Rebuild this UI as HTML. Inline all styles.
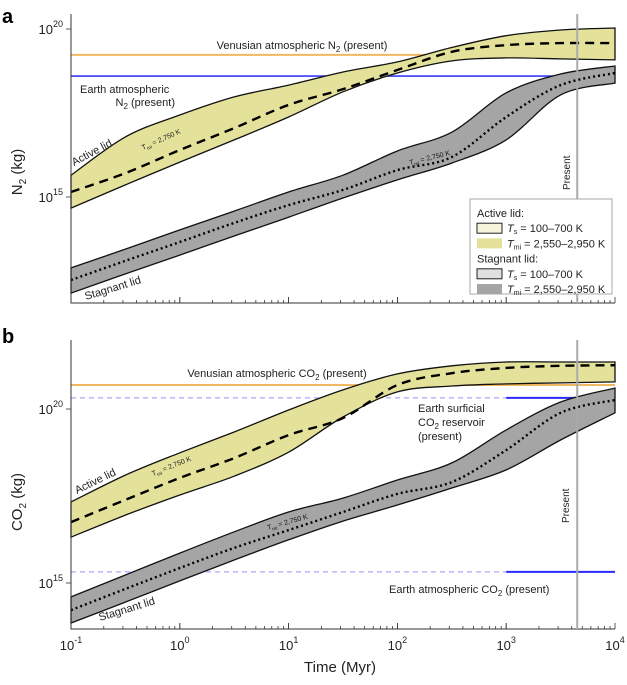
<!DOCTYPE html>
<html><head><meta charset="utf-8"><style>
html,body{margin:0;padding:0;background:#fff;}
svg{display:block;font-family:"Liberation Sans",sans-serif;}
</style></head><body>
<svg id="chart" width="627" height="685" viewBox="0 0 627 685" xmlns="http://www.w3.org/2000/svg">
<g id="layer"></g>
</svg>
<script>
// Shared time grid (log10 Myr)
const logTime = [-1, -0.5, 0, 0.5, 1, 1.5, 2, 2.5, 3, 3.5, 4];
// Panel a: N2 (log10 kg)
const aActiveUpper = [15.65, 16.79, 17.44, 17.98, 18.33, 18.72, 19.02, 19.45, 19.80, 19.97, 20.03];
const aActiveLower = [14.67, 15.36, 16.04, 16.70, 17.38, 18.13, 18.69, 19.05, 19.14, 19.11, 19.08];
const aActiveMean  = [15.15, 15.71, 16.40, 17.05, 17.74, 18.21, 18.78, 19.32, 19.52, 19.58, 19.58];
const aStagUpper = [12.89, 13.45, 14.02, 14.58, 15.15, 15.65, 16.37, 16.93, 18.10, 18.66, 18.90];
const aStagLower = [12.14, 12.71, 13.27, 13.84, 14.40, 14.97, 15.51, 16.01, 16.70, 18.04, 18.39];
const aStagMean  = [12.53, 13.10, 13.66, 14.23, 14.76, 15.21, 15.80, 16.19, 17.38, 18.33, 18.69];
const aVenusN2 = 19.23, aEarthN2 = 18.60;
// Panel b: CO2 (log10 kg)
const bActiveUpper = [17.33, 18.10, 18.74, 19.34, 19.97, 20.55, 21.01, 21.24, 21.35, 21.35, 21.35];
const bActiveLower = [16.32, 16.95, 17.53, 18.07, 18.76, 19.77, 20.49, 20.66, 20.72, 20.75, 20.78];
const bActiveMean  = [16.75, 17.39, 18.02, 18.59, 19.25, 19.74, 20.69, 21.03, 21.18, 21.24, 21.26];
const bStagUpper = [14.60, 15.23, 15.86, 16.47, 17.04, 17.44, 17.96, 18.45, 19.40, 20.20, 20.60];
const bStagLower = [13.85, 14.45, 15.06, 15.66, 16.24, 16.78, 17.24, 17.73, 18.25, 19.11, 19.89];
const bStagMean  = [14.22, 14.83, 15.43, 16.01, 16.52, 17.04, 17.56, 17.90, 18.82, 19.89, 20.26];
const bVenusCO2 = 20.69, bEarthSurf = 20.32, bEarthAtm = 15.32;
const presentLogT = 3.653;
const xTickLabels = ["-1","0","1","2","3","4"];

const NS = "http://www.w3.org/2000/svg";
const layer = document.getElementById("layer");
const X0 = 71, XD = 108.8;
function xs(lt){ return X0 + (lt + 1) * XD; }
function yA(v){ return 29 + (20 - v) * 33.6; }
function yB(v){ return 409 + (20 - v) * 34.8; }
function el(tag, attrs, parent){ const e=document.createElementNS(NS,tag); for(const k in attrs) e.setAttribute(k,attrs[k]); (parent||layer).appendChild(e); return e; }
function pts(arr, yf){ return arr.map((v,i)=>[xs(logTime[i]), yf(v)]); }
function cr(p){
  let d="";
  for(let i=0;i<p.length-1;i++){
    const p0=p[Math.max(0,i-1)],p1=p[i],p2=p[i+1],p3=p[Math.min(p.length-1,i+2)];
    const c1=[p1[0]+(p2[0]-p0[0])/6,p1[1]+(p2[1]-p0[1])/6];
    const c2=[p2[0]-(p3[0]-p1[0])/6,p2[1]-(p3[1]-p1[1])/6];
    d+=` C${c1[0].toFixed(1)},${c1[1].toFixed(1)} ${c2[0].toFixed(1)},${c2[1].toFixed(1)} ${p2[0].toFixed(1)},${p2[1].toFixed(1)}`;
  }
  return d;
}
function line(p){ return `M${p[0][0]},${p[0][1].toFixed(1)}`+cr(p); }
function band(up, lo, yf, fill, name){
  const pu=pts(up,yf), pl=pts(lo,yf).reverse();
  const d=line(pu)+` L${pl[0][0]},${pl[0][1].toFixed(1)}`+cr(pl)+" Z";
  const b=el("path",{d:d,fill:fill,stroke:"#111","stroke-width":1.3});
  
  
}
function meanLine(arr, yf, dash, w, name){
  const m=el("path",{d:line(pts(arr,yf)),fill:"none",stroke:"#000","stroke-width":w,"stroke-dasharray":dash});
  
  
}
function hline(v, yf, x1, x2, color, w, dash, name){
  const l=el("line",{x1:x1,x2:x2,y1:yf(v),y2:yf(v),stroke:color,"stroke-width":w});
  if(dash) l.setAttribute("stroke-dasharray",dash);
  
  
}
function text(x,y,str,opts,name){
  const t=el("text",Object.assign({x:x,y:y,"font-size":11,fill:"#222"},opts||{}));
  t.innerHTML=str;
  
  
  return t;
}
function axes(top,bottom,yf,prefix,labels){
  const ax=el("path",{d:`M${X0},${top} L${X0},${bottom} L${xs(4)},${bottom}`,fill:"none",stroke:"#333","stroke-width":1});
  
  
  for(let d=-1; d<4; d++){
    for(let k=1;k<=10;k++){
      const x=xs(d+Math.log10(k));
      const tk=el("line",{x1:x,x2:x,y1:bottom,y2:bottom-(k===1||k===10?6:3),stroke:"#333","stroke-width":0.8});
      
      
    }
  }
  [20,15].forEach(v=>{
    const tk=el("line",{x1:X0-5,x2:X0,y1:yf(v),y2:yf(v),stroke:"#333","stroke-width":0.8});
    
    
    text(X0-8,yf(v)+5,`10<tspan dy="-7" font-size="9">${v}</tspan>`,{"text-anchor":"end","font-size":13,fill:"#222"},prefix+'-y-tick-label');
  });
  if(labels){
    xTickLabels.forEach((s,i)=>{
      text(xs(i-1),bottom+21,`10<tspan dy="-7" font-size="9">${s}</tspan>`,{"text-anchor":"middle","font-size":13,fill:"#222"},'x-tick-label');
    });
  }
  const px=xs(presentLogT);
  const pl=el("line",{x1:px,x2:px,y1:top,y2:bottom,stroke:"#aaa","stroke-width":2});
  
  
}

// ---------- Panel a ----------
hline(aVenusN2,yA,X0,xs(4),"#f0b860",2,null,"venus-n2-line");
hline(aEarthN2,yA,X0,xs(4),"#3a3aff",1.6,null,"earth-n2-line");
band(aActiveUpper,aActiveLower,yA,"#e4e29a","active-lid-band-a");
band(aStagUpper,aStagLower,yA,"#a5a5a5","stagnant-lid-band-a");
meanLine(aActiveMean,yA,"9,6",2.4,"active-mean-a");
meanLine(aStagMean,yA,"2,3",2.4,"stagnant-mean-a");
axes(14,303,yA,"panel-a",false);
text(302,49,'Venusian atmospheric N<tspan dy="3" font-size="8">2</tspan><tspan dy="-3"> (present)</tspan>',{"text-anchor":"middle"},"venus-n2-label");
text(80,93,'Earth atmospheric',{},"earth-n2-label");
text(175,106,'N<tspan dy="3" font-size="8">2</tspan><tspan dy="-3"> (present)</tspan>',{"text-anchor":"end"},"earth-n2-label-2");
text(74,166,'Active lid',{transform:"rotate(-28 74 166)"},"active-lid-label-a");
text(86,300,'Stagnant lid',{transform:"rotate(-17 86 300)"},"stagnant-lid-label-a");
text(143,150,'T<tspan dy="2" font-size="5">mi</tspan><tspan dy="-2"> = 2,750 K</tspan>',{"font-size":7,transform:"rotate(-24 143 150)"},"tmi-label-a1");
text(410,165,'T<tspan dy="2" font-size="5">mi</tspan><tspan dy="-2"> = 2,750 K</tspan>',{"font-size":7,fill:"#111",transform:"rotate(-14 410 165)"},"tmi-label-a2");
text(570,190,'Present',{transform:"rotate(-90 570 190)","font-size":10},"present-label-a");
text(22,172,'N<tspan dy="4" font-size="10">2</tspan><tspan dy="-4"> (kg)</tspan>',{"font-size":15,"text-anchor":"middle",transform:"rotate(-90 22 172)"},"y-axis-title-a");
text(2,23,'a',{"font-size":20,"font-weight":"bold",fill:"#000"},"panel-a-letter");

// legend
const lg=el("g",{});


el("rect",{x:470,y:199,width:142,height:95,fill:"#fff",stroke:"#aaa","stroke-width":1},lg);
const lgRows=[["Active lid:",null],["T","#f6f5dc"],["T","#e4e29a"],["Stagnant lid:",null],["T","#e0e0e0"],["T","#a5a5a5"]];
lgRows.forEach((r,i)=>{
  const y=213+i*15.2;
  if(!r[1]){ text(477,y+4,r[0],{"font-size":11},"legend-heading"); return; }
  const sw=el("rect",{x:477,y:y-5,width:25,height:10,fill:r[1],stroke:(i===1||i===4)?"#222":"none","stroke-width":1},lg);
  
  
  const lab=(i===1||i===4)?'<tspan font-style="italic">T</tspan><tspan dy="2" font-size="7">s</tspan><tspan dy="-2"> = 100–700 K</tspan>':'<tspan font-style="italic">T</tspan><tspan dy="2" font-size="7">mi</tspan><tspan dy="-2"> = 2,550–2,950 K</tspan>';
  text(507,y+4,lab,{"font-size":11},"legend-entry");
});

// ---------- Panel b ----------
hline(bVenusCO2,yB,X0,xs(4),"#f0b860",2,null,"venus-co2-line");
hline(bEarthSurf,yB,X0,xs(3),"#a8a8ff",1.2,"5,4","earth-surficial-co2-dashed");
hline(bEarthSurf,yB,xs(3),xs(4),"#2a2aff",2,null,"earth-surficial-co2-line");
hline(bEarthAtm,yB,X0,xs(3),"#a8a8ff",1.2,"5,4","earth-atm-co2-dashed");
hline(bEarthAtm,yB,xs(3),xs(4),"#2a2aff",2,null,"earth-atm-co2-line");
band(bActiveUpper,bActiveLower,yB,"#e4e29a","active-lid-band-b");
band(bStagUpper,bStagLower,yB,"#a5a5a5","stagnant-lid-band-b");
meanLine(bActiveMean,yB,"9,6",2.4,"active-mean-b");
meanLine(bStagMean,yB,"2,3",2.4,"stagnant-mean-b");
axes(340,629,yB,"panel-b",true);
text(277,377,'Venusian atmospheric CO<tspan dy="3" font-size="8">2</tspan><tspan dy="-3"> (present)</tspan>',{"text-anchor":"middle"},"venus-co2-label");
text(418,412,'Earth surficial',{},"earth-surficial-label-1");
text(418,426,'CO<tspan dy="3" font-size="8">2</tspan><tspan dy="-3"> reservoir</tspan>',{},"earth-surficial-label-2");
text(418,440,'(present)',{},"earth-surficial-label-3");
text(389,593,'Earth atmospheric CO<tspan dy="3" font-size="8">2</tspan><tspan dy="-3"> (present)</tspan>',{},"earth-atm-co2-label");
text(77,494,'Active lid',{transform:"rotate(-26 77 494)"},"active-lid-label-b");
text(100,621,'Stagnant lid',{transform:"rotate(-17 100 621)"},"stagnant-lid-label-b");
text(153,476,'T<tspan dy="2" font-size="5">mi</tspan><tspan dy="-2"> = 2,750 K</tspan>',{"font-size":7,transform:"rotate(-22 153 476)"},"tmi-label-b1");
text(268,530,'T<tspan dy="2" font-size="5">mi</tspan><tspan dy="-2"> = 2,750 K</tspan>',{"font-size":7,fill:"#111",transform:"rotate(-16 268 530)"},"tmi-label-b2");
text(569,523,'Present',{transform:"rotate(-90 569 523)","font-size":10},"present-label-b");
text(22,502,'CO<tspan dy="4" font-size="10">2</tspan><tspan dy="-4"> (kg)</tspan>',{"font-size":15,"text-anchor":"middle",transform:"rotate(-90 22 502)"},"y-axis-title-b");
text(2,343,'b',{"font-size":20,"font-weight":"bold",fill:"#000"},"panel-b-letter");
text(340,672,'Time (Myr)',{"font-size":15,"text-anchor":"middle"},"x-axis-title");
</script>
</body></html>
